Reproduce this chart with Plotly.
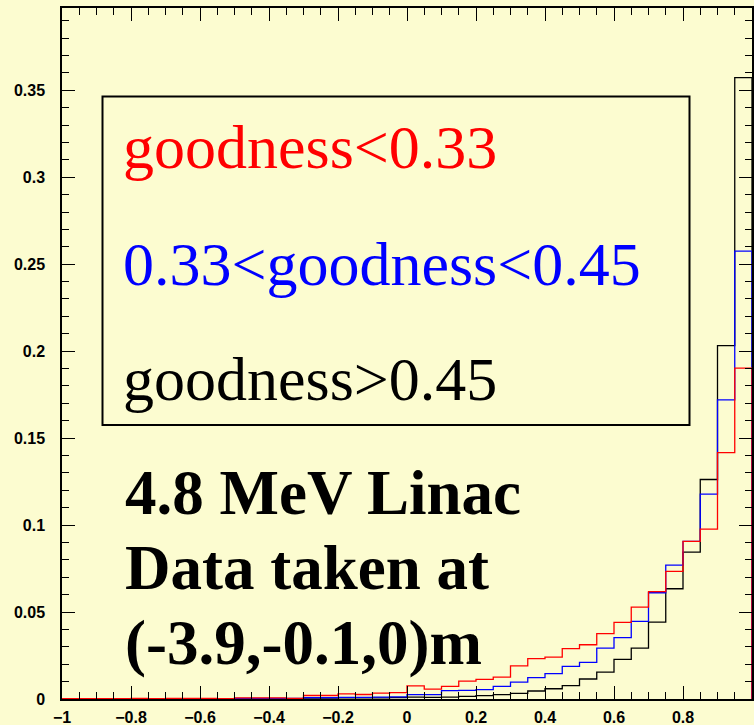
import numpy as np
import plotly.graph_objects as go

# 40 bins of width 0.05 on [-1, 1]
bin_lo = -1.0
bin_hi = 1.0
n_bins = 40

# normalised bin contents, one list per goodness selection
red_vals = [0.0002, 0.0002, 0.0002, 0.0002, 0.0003, 0.0002, 0.0003, 0.0003, 0.0004, 0.0002,
            0.0006, 0.0006, 0.0006, 0.0004, 0.0020, 0.0020, 0.0029, 0.0026, 0.0034, 0.0037,
            0.0075, 0.0057, 0.0073, 0.0103, 0.0113, 0.0126, 0.0190, 0.0232, 0.0241, 0.0290,
            0.0312, 0.0376, 0.0440, 0.0528, 0.0617, 0.0734, 0.0906, 0.0977, 0.1416, 0.1902]
blue_vals = [0.0001, 0.0001, 0.0001, 0.0001, 0.0001, 0.0001, 0.0001, 0.0001, 0.0001, 0.0001,
             0.0003, 0.0003, 0.0003, 0.0003, 0.0008, 0.0008, 0.0009, 0.0009, 0.0011, 0.0012,
             0.0025, 0.0025, 0.0048, 0.0050, 0.0054, 0.0073, 0.0097, 0.0123, 0.0146, 0.0188,
             0.0211, 0.0293, 0.0353, 0.0446, 0.0611, 0.0770, 0.0906, 0.1178, 0.1720, 0.2575]
black_vals = [0.0001, 0.0001, 0.0001, 0.0001, 0.0001, 0.0001, 0.0001, 0.0001, 0.0001, 0.0001,
              0.0002, 0.0002, 0.0002, 0.0002, 0.0005, 0.0005, 0.0006, 0.0006, 0.0007, 0.0008,
              0.0011, 0.0009, 0.0011, 0.0015, 0.0019, 0.0025, 0.0032, 0.0046, 0.0059, 0.0077,
              0.0115, 0.0155, 0.0228, 0.0293, 0.0442, 0.0634, 0.0845, 0.1262, 0.2032, 0.3573]

legend_labels = ["goodness<0.33", "0.33<goodness<0.45", "goodness>0.45"]
info_lines = ["4.8 MeV Linac", "Data taken at", "(-3.9,-0.1,0)m"]

BG = "#fcfcd0"
edges = np.linspace(bin_lo, bin_hi, n_bins + 1)


def outline(vals):
    """Histogram outline: rises from 0 at the left edge, drops to 0 at the right edge."""
    xs = [edges[0]] + list(edges[:-1]) + [edges[-1], edges[-1]]
    ys = [0.0] + list(vals) + [vals[-1], 0.0]
    return xs, ys


fig = go.Figure()
for vals, col in [(black_vals, "black"), (blue_vals, "#0000ff"), (red_vals, "#ff0000")]:
    xs, ys = outline(vals)
    fig.add_trace(go.Scatter(x=xs, y=ys, mode="lines", line=dict(color=col, width=1.3, shape="hv"),
                             showlegend=False, hoverinfo="skip"))

W, H = 754, 725
ml, mr, mt, mb = 62, 2, 8, 26
pw, ph = W - ml - mr, H - mt - mb


def px_x(p):
    return (p - ml) / pw


def px_y(p):
    return (H - mb - p) / ph


# framed legend box
fig.add_shape(type="rect", xref="paper", yref="paper",
              x0=px_x(102.5), x1=px_x(689.5), y0=px_y(425), y1=px_y(96.5),
              line=dict(color="black", width=2), fillcolor="rgba(0,0,0,0)")

serif = "Liberation Serif, Times New Roman, serif"
for label, col, yc in zip(legend_labels, ["#ff0000", "#0000ff", "black"], [147, 264, 379]):
    fig.add_annotation(text=label, xref="paper", yref="paper", x=px_x(121), y=px_y(yc),
                       xanchor="left", yanchor="middle", showarrow=False,
                       font=dict(family=serif, size=62, color=col))

for line, yc in zip(info_lines, [493, 568, 643]):
    fig.add_annotation(text="<b>" + line + "</b>", xref="paper", yref="paper", x=px_x(123), y=px_y(yc),
                       xanchor="left", yanchor="middle", showarrow=False,
                       font=dict(family=serif, size=63, color="black"))

tickfont = dict(family="Liberation Sans, Arial, sans-serif", size=16, color="black", weight="bold")
fig.update_xaxes(range=[bin_lo, bin_hi], showgrid=False, zeroline=False, automargin=False,
                 showline=True, linecolor="black", linewidth=1.5, mirror="allticks",
                 ticks="inside", ticklen=13, tickwidth=1, tickcolor="black", dtick=0.2, tick0=-1,
                 minor=dict(ticks="inside", ticklen=7, dtick=0.05, tickcolor="black", tickwidth=1, showgrid=False),
                 tickfont=tickfont, ticklabelstandoff=3)
fig.update_yaxes(range=[0, 0.3973], showgrid=False, zeroline=False, automargin=False,
                 showline=True, linecolor="black", linewidth=1.5, mirror="allticks",
                 ticks="inside", ticklen=13, tickwidth=1, tickcolor="black", dtick=0.05, tick0=0,
                 minor=dict(ticks="inside", ticklen=7, dtick=0.01, tickcolor="black", tickwidth=1, showgrid=False),
                 tickfont=tickfont, ticklabelstandoff=12)

fig.update_layout(width=W, height=H, margin=dict(l=ml, r=mr, t=mt, b=mb, pad=0),
                  paper_bgcolor=BG, plot_bgcolor=BG, showlegend=False)

fig.write_html("out.html")
